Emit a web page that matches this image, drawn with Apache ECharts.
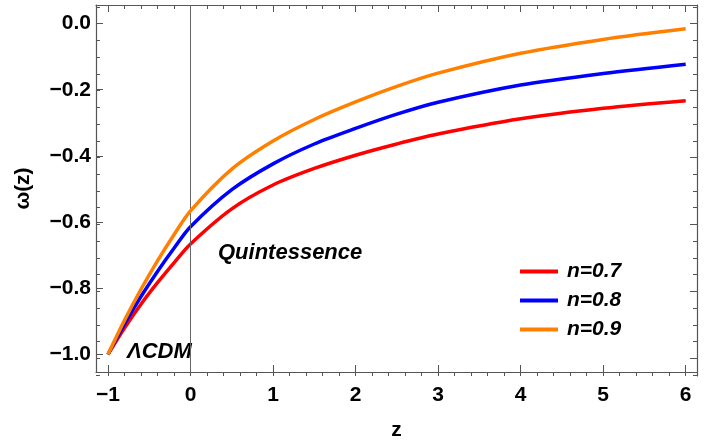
<!DOCTYPE html>
<html>
<head>
<meta charset="utf-8">
<script src="https://cdn.jsdelivr.net/npm/echarts@6/dist/echarts.min.js"></script>
<style>
  html, body { margin: 0; padding: 0; background: #fff; }
  #chart { width: 720px; height: 446px; }
</style>
</head>
<body>
<div id="chart"></div>
<script>
// redshift samples
const zVals = [-1, -0.8, -0.6, -0.4, -0.2, 0, 0.5, 1, 1.5, 2, 2.5, 3, 4, 5, 6];
const wN07 = [-1, -0.920, -0.848, -0.783, -0.723, -0.666, -0.560, -0.488, -0.438, -0.398, -0.364, -0.334, -0.288, -0.256, -0.233];
const wN08 = [-1, -0.908, -0.825, -0.749, -0.679, -0.614, -0.502, -0.424, -0.364, -0.317, -0.274, -0.238, -0.186, -0.151, -0.123];
const wN09 = [-1, -0.897, -0.803, -0.717, -0.638, -0.566, -0.440, -0.355, -0.290, -0.237, -0.190, -0.150, -0.090, -0.048, -0.016];

const seriesNames = ['n=0.7', 'n=0.8', 'n=0.9'];
const seriesColors = ['#ff0000', '#0000ff', '#ff8000'];

const xTicks = [-1, 0, 1, 2, 3, 4, 5, 6];
const yTicks = [-1.0, -0.8, -0.6, -0.4, -0.2, 0.0];

const xMin = -1.145, xMax = 6.137;
const yMin = -1.053, yMax = 0.056;

// minor ticks: every 0.2 on z, every 0.05 on w
const xMinor = [];
for (let i = -5; i <= 30; i++) xMinor.push(+(i * 0.2).toFixed(2));
const yMinor = [];
for (let i = -21; i <= 1; i++) yMinor.push(+(i * 0.05).toFixed(2));

const FONT = '"Liberation Sans", Arial, sans-serif';
const frame = '#555';
const minus = (s) => s.replace('-', '\u2212');

const chart = echarts.init(document.getElementById('chart'));

// four stacked grids at the same place: data+labels, opposite frame, minor ticks both sides
const box = { left: 96, right: 23, top: 5, bottom: 70 };
const grids = [0, 1, 2, 3].map(() => ({ ...box }));

const makeX = (gi, pos, ticks, len, showLine, showLabels) => ({
  type: 'value',
  gridIndex: gi,
  position: pos,
  min: xMin,
  max: xMax,
  splitLine: { show: false },
  axisLine: { show: showLine, onZero: false, lineStyle: { color: frame, width: 1.2 } },
  axisTick: { show: true, inside: true, length: len, customValues: ticks, lineStyle: { color: frame } },
  axisLabel: {
    show: showLabels,
    customValues: ticks,
    margin: 13,
    color: '#000',
    fontFamily: FONT,
    fontWeight: 'bold',
    fontSize: 21,
    formatter: (v) => minus(String(v)),
  },
});
const makeY = (gi, pos, ticks, len, showLine, showLabels) => ({
  type: 'value',
  gridIndex: gi,
  position: pos,
  min: yMin,
  max: yMax,
  splitLine: { show: false },
  axisLine: { show: showLine, onZero: false, lineStyle: { color: frame, width: 1.2 } },
  axisTick: { show: true, inside: true, length: len, customValues: ticks, lineStyle: { color: frame } },
  axisLabel: {
    show: showLabels,
    customValues: ticks,
    margin: 5,
    color: '#000',
    fontFamily: FONT,
    fontWeight: 'bold',
    fontSize: 21,
    formatter: (v) => minus(v.toFixed(1)),
  },
});

const nameStyle = { color: '#000', fontFamily: FONT, fontWeight: 'bold', fontSize: 21 };

const xAxes = [
  { ...makeX(0, 'bottom', xTicks, 7, true, true), name: 'z', nameLocation: 'middle', nameGap: 48, nameTextStyle: nameStyle },
  makeX(1, 'top', xTicks, 7, true, false),
  makeX(2, 'bottom', xMinor, 4, false, false),
  makeX(3, 'top', xMinor, 4, false, false),
];
const yAxes = [
  { ...makeY(0, 'left', yTicks, 7, true, true), name: '\u03c9(z)', nameLocation: 'middle', nameRotate: 90, nameGap: 62, nameTextStyle: nameStyle },
  makeY(1, 'right', yTicks, 7, true, false),
  makeY(2, 'left', yMinor, 4, false, false),
  makeY(3, 'right', yMinor, 4, false, false),
];

const curves = [wN07, wN08, wN09].map((vals, i) => ({
  name: seriesNames[i],
  type: 'line',
  xAxisIndex: 0,
  yAxisIndex: 0,
  data: zVals.map((z, j) => [z, vals[j]]),
  smooth: 0.3,
  showSymbol: false,
  lineStyle: { color: seriesColors[i], width: 3.5 },
  itemStyle: { color: seriesColors[i] },
  z: 3 + i,
}));

// vertical reference line at z = 0
curves[0].markLine = {
  silent: true,
  symbol: 'none',
  label: { show: false },
  lineStyle: { color: '#666', width: 1, type: 'solid' },
  data: [{ xAxis: 0 }],
};

const option = {
  animation: false,
  grid: grids,
  xAxis: xAxes,
  yAxis: yAxes,
  legend: {
    data: seriesNames,
    orient: 'vertical',
    left: 520,
    top: 261,
    padding: 0,
    icon: 'rect',
    itemWidth: 38,
    itemHeight: 4,
    itemGap: 8,
    textStyle: {
      color: '#000',
      fontFamily: FONT,
      fontWeight: 'bold',
      fontStyle: 'italic',
      fontSize: 21,
      lineHeight: 21,
      padding: [0, 0, 0, 4],
    },
  },
  graphic: [
    {
      type: 'text',
      left: 218,
      top: 242,
      style: { text: 'Quintessence', fill: '#000', font: 'italic bold 22px ' + FONT },
    },
    {
      type: 'text',
      left: 127,
      top: 341,
      style: { text: '\u039bCDM', fill: '#000', font: 'italic bold 22px ' + FONT },
    },
  ],
  series: curves,
};

chart.setOption(option);
</script>
</body>
</html>
